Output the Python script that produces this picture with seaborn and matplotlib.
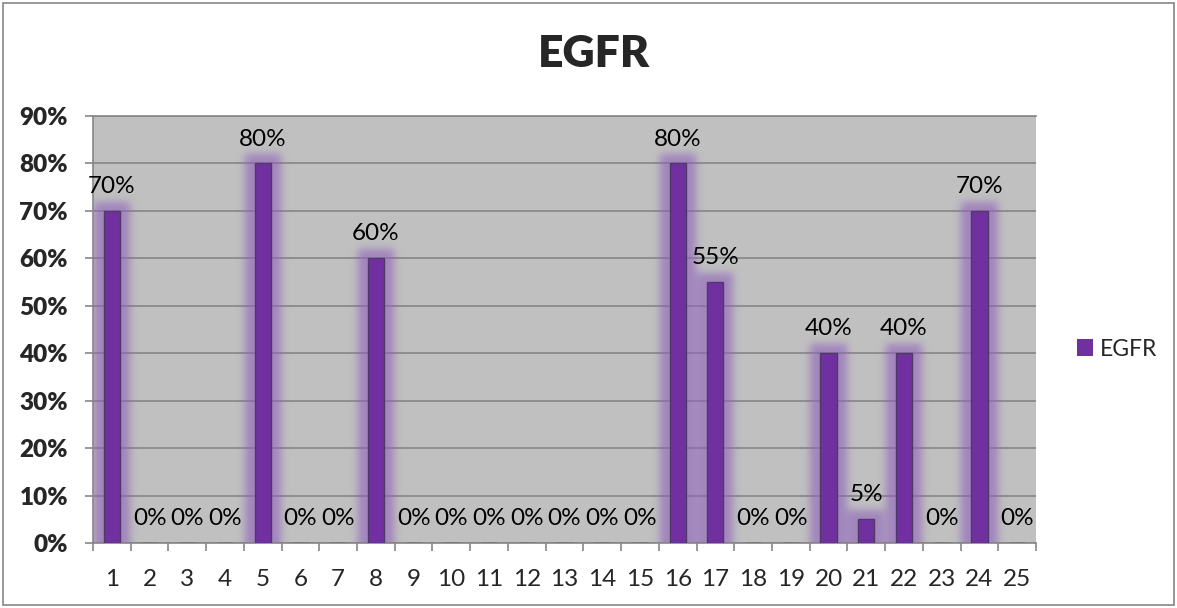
import numpy as np
import pandas as pd
import matplotlib
matplotlib.use("Agg")
import matplotlib.pyplot as plt
import seaborn as sns
from matplotlib.ticker import PercentFormatter, FixedLocator
from matplotlib.patches import Rectangle

# ---- data ----
samples = [str(i) for i in range(1, 26)]
egfr = [0.70, 0.00, 0.00, 0.00, 0.80, 0.00, 0.00, 0.60, 0.00, 0.00,
        0.00, 0.00, 0.00, 0.00, 0.00, 0.80, 0.55, 0.00, 0.00, 0.40,
        0.05, 0.40, 0.00, 0.70, 0.00]
y_ticks = [0.0, 0.1, 0.2, 0.3, 0.4, 0.5, 0.6, 0.7, 0.8, 0.9]
series_name = "EGFR"

# ---- style ----
bar_color = "#7030A0"
glow_rgb = (0.56, 0.38, 0.74)
plot_bg = "#C0C0C0"
grid_color = "#868686"

sns.set_style("white")
plt.rcParams["font.family"] = ["Lato", "DejaVu Sans"]

W_PX, H_PX = 1177, 608
fig = plt.figure(figsize=(W_PX / 100, H_PX / 100), dpi=100)
ax_l, ax_r, ax_t, ax_b = 93, 1036, 116, 543
ax = fig.add_axes([ax_l / W_PX, 1 - ax_b / H_PX,
                   (ax_r - ax_l) / W_PX, (ax_b - ax_t) / H_PX])
ax.set_facecolor(plot_bg)

df = pd.DataFrame({"sample": samples, "value": egfr,
                   "series": [series_name] * len(samples)})
sns.barplot(data=df, x="sample", y="value", hue="series",
            palette={series_name: bar_color}, saturation=1, width=0.43,
            edgecolor="#4e3b63", linewidth=1.0, ax=ax, zorder=3)

ax.set_xlim(-0.5, len(samples) - 0.5)
ax.set_ylim(0, 0.9)

# ---- soft glow around each bar, built from the bar rectangles ----
axW, axH = ax_r - ax_l, ax_b - ax_t
x0l, x1l = ax.get_xlim()
y0l, y1l = ax.get_ylim()
pad = 40
mask = np.zeros((axH + 2 * pad, axW + 2 * pad))
xs = x0l + (np.arange(-pad, axW + pad) + 0.5) / axW * (x1l - x0l)
ys = y0l + (np.arange(-pad, axH + pad) + 0.5) / axH * (y1l - y0l)
grow_x = 10 / axW * (x1l - x0l)
grow_y = 9 / axH * (y1l - y0l)
bars = [p for p in ax.patches if isinstance(p, Rectangle) and p.get_height() > 0]
for p in bars:
    bx0 = p.get_x() - grow_x
    bx1 = p.get_x() + p.get_width() + grow_x
    by1 = p.get_height() + grow_y
    cols = (xs >= bx0) & (xs <= bx1)
    rows = ys <= by1
    mask[np.ix_(rows, cols)] = 1.0

sigma = 4.0
k = np.arange(-int(4 * sigma), int(4 * sigma) + 1)
kern = np.exp(-0.5 * (k / sigma) ** 2)
kern /= kern.sum()
blur = np.apply_along_axis(lambda r: np.convolve(r, kern, mode="same"), 1, mask)
blur = np.apply_along_axis(lambda c: np.convolve(c, kern, mode="same"), 0, blur)
blur = blur[pad:-pad, pad:-pad]
rgba = np.zeros(blur.shape + (4,))
rgba[..., 0], rgba[..., 1], rgba[..., 2] = glow_rgb
rgba[..., 3] = np.clip(blur, 0, 1) * 0.62
ax.imshow(rgba, extent=(x0l, x1l, y0l, y1l), origin="lower",
          aspect="auto", interpolation="bilinear", zorder=2)
ax.set_xlim(x0l, x1l)
ax.set_ylim(y0l, y1l)

# ---- value labels ----
for cont in ax.containers:
    ax.bar_label(cont, labels=[f"{v:.0%}" for v in cont.datavalues],
                 padding=10, fontsize=17.5, color="black")

# ---- axes ----
ax.yaxis.set_major_locator(FixedLocator(y_ticks))
ax.yaxis.set_major_formatter(PercentFormatter(1.0, decimals=0))
ax.set_axisbelow(True)
ax.yaxis.grid(True, color=grid_color, linewidth=1.2)
ax.xaxis.grid(False)
for side in ("left", "bottom", "top"):
    ax.spines[side].set_color(grid_color)
    ax.spines[side].set_linewidth(1.2)
ax.spines["right"].set_visible(False)

ax.set_xticks(np.arange(len(samples)))
ax.set_xticklabels(samples)
ax.set_xticks(np.arange(len(samples) + 1) - 0.5, minor=True)
ax.tick_params(axis="x", which="major", length=0, pad=19, labelsize=17.5)
ax.tick_params(axis="x", which="minor", length=6, width=1.2, color=grid_color,
               direction="out", bottom=True)
ax.tick_params(axis="y", which="major", length=6, width=1.2, color=grid_color,
               direction="out", left=True, pad=12, labelsize=17.5)
for lbl in ax.get_yticklabels():
    lbl.set_fontweight("heavy")
ax.set_xlabel("")
ax.set_ylabel("")

# ---- legend ----
leg = ax.get_legend()
if leg is not None:
    leg.remove()
handles = [Rectangle((0, 0), 1, 1, facecolor=bar_color, edgecolor="none")]
fig.legend(handles, [series_name], loc="center left",
           bbox_to_anchor=(1077 / W_PX, 1 - 349 / H_PX), frameon=False,
           fontsize=16.5, handlelength=0.7, handleheight=0.7,
           handletextpad=0.3, borderpad=0, borderaxespad=0)

# ---- title and outer frame ----
fig.text(594 / W_PX, 1 - 54 / H_PX, series_name, ha="center", va="center",
         fontsize=32, fontweight="heavy")
fig.patches.append(Rectangle((3 / W_PX, 3 / H_PX), 1 - 6 / W_PX, 1 - 6 / H_PX,
                             transform=fig.transFigure, fill=False,
                             edgecolor=grid_color, linewidth=1.2))

fig.savefig("out.png", dpi=100, facecolor="white")
